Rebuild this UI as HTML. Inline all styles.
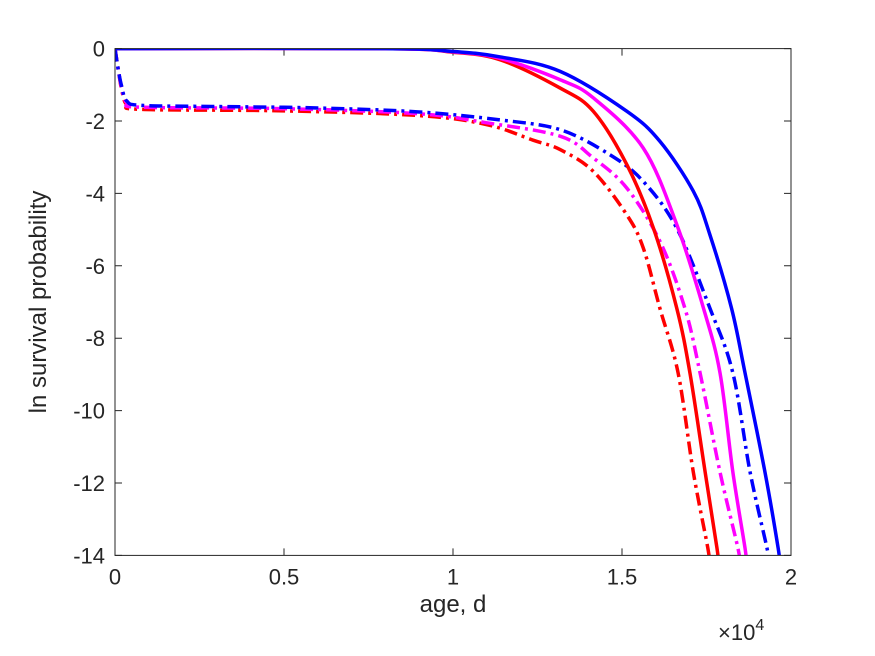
<!DOCTYPE html>
<html><head><meta charset="utf-8"><style>
body{margin:0;background:#fff}
svg{display:block;font-family:"Liberation Sans",sans-serif}
</style></head><body>
<svg id="chart" width="875" height="656" viewBox="0 0 875 656">
<rect width="875" height="656" fill="#fff"/>
<defs><clipPath id="clip"><rect x="115" y="48.6" width="676" height="506.8"/></clipPath></defs>
<g id="grid"></g>
<g id="series" clip-path="url(#clip)"></g>
<rect x="115" y="48.6" width="676" height="506.8" fill="none" stroke="#262626" stroke-width="1"/>
<text x="453" y="612" text-anchor="middle" font-size="24" fill="#262626">age, d</text>
<text x="718" y="640" font-size="22" fill="#262626">×10<tspan dy="-10" font-size="16">4</tspan></text>
<text transform="translate(46,302) rotate(-90)" text-anchor="middle" font-size="24" fill="#262626">ln survival probability</text>
</svg>
<script>
const xTicks=[0,0.5,1,1.5,2];
const xTickLabels=["0","0.5","1","1.5","2"];
const yTicks=[0,-2,-4,-6,-8,-10,-12,-14];
const yTickLabels=["0","-2","-4","-6","-8","-10","-12","-14"];
const redSolid=[[0,0],[0.8,0],[1.0,-0.1],[1.14,-0.31],[1.317,-1.09],[1.415,-1.73],[1.514,-3.2],[1.593,-4.96],[1.662,-7.17],[1.701,-8.96],[1.746,-11.7],[1.781,-13.8],[1.785,-14.2]];
const magentaSolid=[[0,0],[0.8,0],[1.0,-0.09],[1.14,-0.27],[1.317,-0.86],[1.415,-1.36],[1.563,-2.75],[1.662,-4.86],[1.741,-7.17],[1.79,-8.96],[1.828,-11.7],[1.864,-13.8],[1.868,-14.2]];
const blueSolid=[[0,0],[0.8,0],[1.0,-0.08],[1.14,-0.23],[1.317,-0.63],[1.514,-1.73],[1.612,-2.56],[1.711,-3.94],[1.76,-5.14],[1.824,-7.17],[1.864,-8.96],[1.923,-11.7],[1.962,-13.8],[1.966,-14.2]];
const redDash=[[0,0],[0.01,-0.6],[0.02,-1.15],[0.035,-1.55],[0.08,-1.68],[0.5,-1.72],[0.9,-1.85],[1.1,-2.1],[1.237,-2.53],[1.317,-2.79],[1.415,-3.39],[1.514,-4.59],[1.563,-5.51],[1.612,-7.17],[1.666,-8.96],[1.711,-11.7],[1.754,-13.8],[1.758,-14.2]];
const magentaDash=[[0,0],[0.01,-0.6],[0.02,-1.1],[0.035,-1.5],[0.08,-1.62],[0.5,-1.66],[0.9,-1.8],[1.1,-2.05],[1.317,-2.42],[1.415,-3.02],[1.514,-3.85],[1.612,-5.32],[1.686,-7.17],[1.731,-8.96],[1.79,-11.7],[1.843,-13.8],[1.848,-14.2]];
const blueDash=[[0,0],[0.01,-0.6],[0.02,-1.05],[0.035,-1.45],[0.08,-1.57],[0.3,-1.6],[0.6,-1.64],[0.9,-1.75],[1.139,-1.97],[1.317,-2.24],[1.464,-2.93],[1.563,-3.67],[1.662,-4.96],[1.76,-7.17],[1.828,-8.96],[1.879,-11.7],[1.929,-13.8],[1.935,-14.2]];

const NS="http://www.w3.org/2000/svg";
const X0=115,X1=791,Y0=48.6,Y1=555.4;
function xs(v){return X0+(v-0)/(2-0)*(X1-X0);}
function ys(v){return Y0+(0-v)/(0+14)*(Y1-Y0);}
const grid=document.getElementById('grid');
xTicks.forEach((t,i)=>{
  const x=xs(t);
  const l=document.createElementNS(NS,'path');
  
  
  l.setAttribute('d',`M${x},${Y1}v-7M${x},${Y0}v7`);l.setAttribute('stroke','#262626');grid.appendChild(l);
  const tx=document.createElementNS(NS,'text');
  
  
  tx.setAttribute('x',x);tx.setAttribute('y',Y1+29);tx.setAttribute('text-anchor','middle');tx.setAttribute('font-size','22');tx.setAttribute('fill','#262626');
  tx.textContent=xTickLabels[i];grid.appendChild(tx);
});
yTicks.forEach((t,i)=>{
  const y=ys(t);
  const l=document.createElementNS(NS,'path');
  
  
  l.setAttribute('d',`M${X0},${y}h7M${X1},${y}h-7`);l.setAttribute('stroke','#262626');grid.appendChild(l);
  const tx=document.createElementNS(NS,'text');
  
  
  tx.setAttribute('x',X0-10);tx.setAttribute('y',y+8);tx.setAttribute('text-anchor','end');tx.setAttribute('font-size','22');tx.setAttribute('fill','#262626');
  tx.textContent=yTickLabels[i];grid.appendChild(tx);
});
function pathD(data){
  const p=data.map(d=>[xs(d[0]),ys(d[1])]);
  let d=`M${p[0][0]},${p[0][1]}`;
  for(let i=0;i<p.length-1;i++){
    const a=p[Math.max(0,i-1)],b=p[i],c=p[i+1],e=p[Math.min(p.length-1,i+2)];
    const c1=[b[0]+(c[0]-a[0])/6,b[1]+(c[1]-a[1])/6],c2=[c[0]-(e[0]-b[0])/6,c[1]-(e[1]-b[1])/6];
    d+=`C${c1[0]},${c1[1]} ${c2[0]},${c2[1]} ${c[0]},${c[1]}`;
  }
  return d;
}
const ser=document.getElementById('series');
function addLine(data,color,dash,name){
  const p=document.createElementNS(NS,'path');
  
  
  p.setAttribute('d',pathD(data));p.setAttribute('fill','none');p.setAttribute('stroke',color);p.setAttribute('stroke-width','3.5');
  if(dash)p.setAttribute('stroke-dasharray','13 5 3 5');
  ser.appendChild(p);
}
addLine(redDash,'#ff0000',true,'red-dashdot-line');
addLine(magentaDash,'#ff00ff',true,'magenta-dashdot-line');
addLine(blueDash,'#0000ff',true,'blue-dashdot-line');
addLine(redSolid,'#ff0000',false,'red-solid-line');
addLine(magentaSolid,'#ff00ff',false,'magenta-solid-line');
addLine(blueSolid,'#0000ff',false,'blue-solid-line');
</script>
</body></html>
